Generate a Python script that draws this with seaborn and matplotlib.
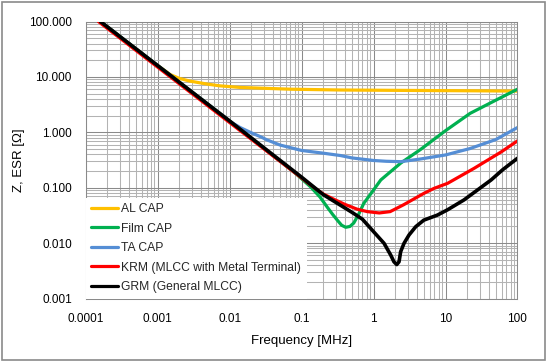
import matplotlib
matplotlib.use("Agg")
import matplotlib.pyplot as plt
import matplotlib.ticker as mticker
import seaborn as sns
import pandas as pd

# ---- data (frequency in MHz, impedance in ohm) ----
al_f = [0.00016, 0.001, 0.0013, 0.0015, 0.002, 0.0028, 0.0048, 0.0073, 0.014, 0.07, 0.35, 3, 10, 100]
al_z = [100, 16, 12.6, 11.0, 9.4, 8.4, 7.45, 6.9, 6.45, 6.0, 5.8, 5.7, 5.65, 5.55]

film_f = [0.00016, 0.001, 0.01, 0.083, 0.133, 0.18, 0.226, 0.27, 0.313, 0.36, 0.41, 0.47, 0.53, 0.62, 0.73, 1.0, 1.26, 2.4, 4.5, 10, 22, 50, 100]
film_z = [100, 16, 1.6, 0.18, 0.104, 0.068, 0.045, 0.033, 0.026, 0.021, 0.0193, 0.020, 0.023, 0.033, 0.052, 0.091, 0.138, 0.28, 0.49, 1.07, 2.2, 3.8, 6.0]

ta_f = [0.00016, 0.001, 0.01, 0.014, 0.02, 0.027, 0.033, 0.05, 0.1, 0.2, 0.35, 0.5, 1.0, 1.5, 2.4, 4.5, 10, 22, 50, 100]
ta_z = [100, 16, 1.58, 1.22, 0.98, 0.83, 0.73, 0.59, 0.47, 0.42, 0.38, 0.345, 0.31, 0.30, 0.295, 0.33, 0.39, 0.51, 0.74, 1.22]

krm_f = [0.00015, 0.001, 0.01, 0.1, 0.15, 0.2, 0.28, 0.4, 0.59, 0.82, 1.2, 1.7, 2.6, 5.0, 6.9, 10.7, 25, 59, 100]
krm_z = [100, 15, 1.5, 0.15, 0.10, 0.077, 0.062, 0.050, 0.041, 0.037, 0.035, 0.037, 0.049, 0.079, 0.097, 0.12, 0.224, 0.44, 0.70]

grm_f = [0.00016, 0.001, 0.01, 0.1, 0.2, 0.5, 0.7, 1.0, 1.4, 1.73, 1.92, 2.1, 2.26, 2.38, 2.65, 3.11, 3.86, 5.0, 7.7, 10.7, 18, 43, 62, 100]
grm_z = [100, 16, 1.6, 0.155, 0.075, 0.036, 0.027, 0.0161, 0.0099, 0.0061, 0.0046, 0.0041, 0.0046, 0.0070, 0.0099, 0.014, 0.0198, 0.026, 0.032, 0.040, 0.060, 0.138, 0.21, 0.34]

names = ["AL CAP", "Film CAP", "TA CAP", "KRM (MLCC with Metal Terminal)", "GRM (General MLCC)"]
colors = ["#FFC000", "#00B050", "#558ED5", "#FF0000", "#000000"]
widths = [2.3, 2.3, 2.3, 2.3, 2.6]

x_ticks = [0.0001, 0.001, 0.01, 0.1, 1, 10, 100]
x_labels = ["0.0001", "0.001", "0.01", "0.1", "1", "10", "100"]
y_ticks = [0.001, 0.01, 0.1, 1, 10, 100]
y_labels = ["0.001", "0.010", "0.100", "1.000", "10.000", "100.000"]

series = [(al_f, al_z), (film_f, film_z), (ta_f, ta_z), (krm_f, krm_z), (grm_f, grm_z)]
frames = []
for name, (f, z) in zip(names, series):
    frames.append(pd.DataFrame({"f": f, "z": z, "s": name}))
df = pd.concat(frames, ignore_index=True)

sns.set_theme(style="white")
plt.rcParams["font.family"] = ["Liberation Sans", "DejaVu Sans"]

fig = plt.figure(figsize=(5.48, 3.62), dpi=100)
ax = fig.add_axes([0.1564, 0.1754, 0.9443 - 0.1564, 0.9406 - 0.1754])

ax.set_xscale("log")
ax.set_yscale("log")
ax.set_xlim(0.0001, 100)
ax.set_ylim(0.001, 100)

ax.xaxis.set_minor_locator(mticker.LogLocator(base=10, subs=range(2, 10), numticks=100))
ax.yaxis.set_minor_locator(mticker.LogLocator(base=10, subs=range(2, 10), numticks=100))
ax.grid(True, which="minor", color="#b3b3b3", linewidth=0.75, zorder=0)
ax.grid(True, which="major", color="#8a8a8a", linewidth=0.75, zorder=0)
ax.set_axisbelow(True)

for name, c, w in zip(names, colors, widths):
    sub = df[df["s"] == name]
    sns.lineplot(data=sub, x="f", y="z", color=c, linewidth=w, ax=ax,
                 label=name, estimator=None, sort=False, zorder=3)

ax.set_xticks(x_ticks)
ax.set_xticklabels(x_labels)
ax.set_yticks(y_ticks)
ax.set_yticklabels(y_labels)
ax.tick_params(axis="both", which="both", length=0, labelsize=8.5, colors="black")
ax.tick_params(axis="x", pad=10.5)
ax.tick_params(axis="y", pad=10)

for sp in ax.spines.values():
    sp.set_color("#8a8a8a")
    sp.set_linewidth(0.75)

ax.set_xlabel("Frequency [MHz]", fontsize=9.5, color="black", labelpad=7)
ax.set_ylabel("Z, ESR [Ω]", fontsize=9.5, color="black", labelpad=3)

leg = ax.legend(loc="lower left", bbox_to_anchor=(0.0, 0.0), borderaxespad=0.0,
                frameon=True, fancybox=False, facecolor="white", edgecolor="none",
                framealpha=1.0, fontsize=8.7, handlelength=2.25, handletextpad=0.25,
                labelspacing=0.62, borderpad=0.45)
for line in leg.get_lines():
    line.set_linewidth(2.3)
leg.set_zorder(5)

# figure outer border
border = plt.Rectangle((0.004, 0.006), 0.991, 0.988, transform=fig.transFigure,
                       fill=False, edgecolor="#8a8a8a", linewidth=1.2)
fig.patches.append(border)

fig.savefig("out.png", dpi=100)
